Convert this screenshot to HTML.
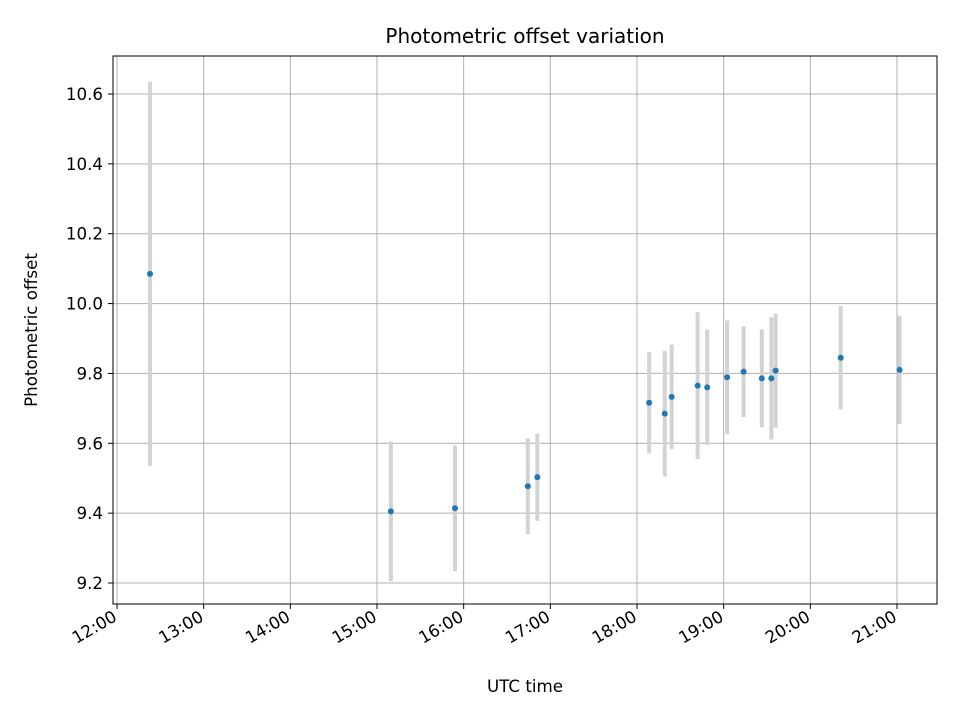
<!DOCTYPE html>
<html><head><meta charset="utf-8"><style>
body{margin:0;background:#fff;}
svg text{font-family:"DejaVu Sans","Liberation Sans",sans-serif;}
</style></head><body>
<svg id="chart" width="960" height="720" xmlns="http://www.w3.org/2000/svg"></svg>
<script>
const timesHours=[12.381,15.16,15.90,16.74,16.85,18.14,18.32,18.40,18.70,18.81,19.04,19.23,19.44,19.55,19.60,20.35,21.03];
const offsets=[10.085,9.405,9.414,9.477,9.503,9.716,9.685,9.733,9.765,9.76,9.789,9.805,9.786,9.786,9.808,9.845,9.81];
const errors=[0.55,0.2,0.18,0.137,0.125,0.145,0.18,0.15,0.21,0.165,0.163,0.13,0.14,0.175,0.163,0.148,0.155];
const xTickHours=[12,13,14,15,16,17,18,19,20,21];
const xTickLabels=["12:00","13:00","14:00","15:00","16:00","17:00","18:00","19:00","20:00","21:00"];
const yTicks=[9.2,9.4,9.6,9.8,10.0,10.2,10.4,10.6];
const yTickLabels=["9.2","9.4","9.6","9.8","10.0","10.2","10.4","10.6"];

const L=113,R=937,T=56,B=604;
const X=h=>117+(h-12)*86.667;
const Y=v=>583-(v-9.2)/0.2*69.857;
const svg=document.getElementById('chart');
const NS="http://www.w3.org/2000/svg";
function mk(tag,attrs,name,parent){const e=document.createElementNS(NS,tag);for(const k in attrs)e.setAttribute(k,attrs[k]);


(parent||svg).appendChild(e);return e;}

xTickHours.forEach((h,i)=>{const x=X(h);
 mk('line',{x1:x,x2:x,y1:T,y2:B,stroke:'#b0b0b0','stroke-width':1},'x-grid-line');
 mk('line',{x1:x,x2:x,y1:B,y2:B+5,stroke:'#000','stroke-width':1},'x-tick');
 const t=mk('text',{x:x+1,y:B+16,'font-size':16.7,'text-anchor':'end',transform:`rotate(-30 ${x+1} ${B+16})`},'x-tick-label');t.textContent=xTickLabels[i];
});
yTicks.forEach((v,i)=>{const y=Y(v);
 mk('line',{x1:L,x2:R,y1:y,y2:y,stroke:'#b0b0b0','stroke-width':1},'y-grid-line');
 mk('line',{x1:L-5,x2:L,y1:y,y2:y,stroke:'#000','stroke-width':1},'y-tick');
 const t=mk('text',{x:L-10,y:y+6,'font-size':16.7,'text-anchor':'end'},'y-tick-label');t.textContent=yTickLabels[i];
});
timesHours.forEach((h,i)=>{const x=X(h);
 mk('line',{x1:x,x2:x,y1:Y(offsets[i]+errors[i]),y2:Y(offsets[i]-errors[i]),stroke:'#d3d3d3','stroke-width':4},'error-bar');
});
timesHours.forEach((h,i)=>{
 mk('circle',{cx:X(h),cy:Y(offsets[i]),r:3,fill:'#1f77b4'},'data-point');
});
mk('rect',{x:L,y:T,width:R-L,height:B-T,fill:'none',stroke:'#000','stroke-width':1},'plot-frame');
let t=mk('text',{x:525,y:43,'font-size':20,'text-anchor':'middle'},'chart-title');t.textContent='Photometric offset variation';
t=mk('text',{x:525,y:692,'font-size':16.7,'text-anchor':'middle'},'x-axis-title');t.textContent='UTC time';
t=mk('text',{x:37,y:330,'font-size':16.7,'text-anchor':'middle',transform:'rotate(-90 37 330)'},'y-axis-title');t.textContent='Photometric offset';
</script>
</body></html>
